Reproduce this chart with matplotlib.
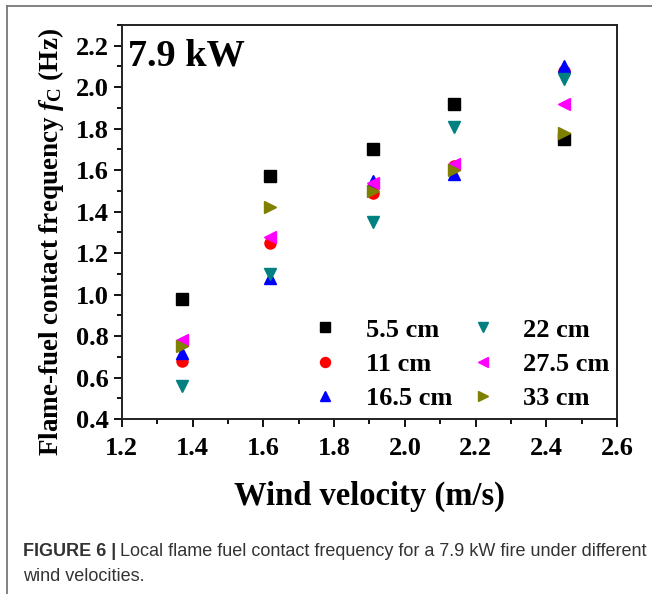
import matplotlib.pyplot as plt
from matplotlib.lines import Line2D
from matplotlib.ticker import MultipleLocator

# wind velocity (m/s)
velocity = [1.37, 1.62, 1.91, 2.14, 2.45]

# flame-fuel contact frequency (Hz) for each height
heights = ["5.5 cm", "11 cm", "16.5 cm", "22 cm", "27.5 cm", "33 cm"]
f_55 = [0.98, 1.57, 1.70, 1.92, 1.75]
f_11 = [0.68, 1.25, 1.49, 1.62, 2.08]
f_165 = [0.72, 1.08, 1.55, 1.58, 2.10]
f_22 = [0.56, 1.10, 1.35, 1.81, 2.04]
f_275 = [0.78, 1.28, 1.54, 1.63, 1.92]
f_33 = [0.75, 1.42, 1.50, 1.60, 1.78]

series = [f_55, f_11, f_165, f_22, f_275, f_33]
markers = ["s", "o", "^", "v", "<", ">"]
colors = ["black", "red", "blue", "#008080", "magenta", "#808000"]

plt.rcParams["font.family"] = ["Liberation Serif", "DejaVu Serif"]
plt.rcParams["font.weight"] = "bold"
plt.rcParams["mathtext.fontset"] = "custom"
plt.rcParams["mathtext.rm"] = "Liberation Serif:bold"
plt.rcParams["mathtext.it"] = "Liberation Serif:italic:bold"
plt.rcParams["mathtext.bf"] = "Liberation Serif:bold"

fig = plt.figure(figsize=(6.52, 5.94), dpi=100)
ax = fig.add_axes([0.1867, 0.2946, 0.760, 0.6633])

for vals, m, c, lab in zip(series, markers, colors, heights):
    ax.plot(velocity, vals, linestyle="none", marker=m, color=c,
            markersize=8, label=lab)

ax.set_xlim(1.2, 2.6)
ax.set_ylim(0.4, 2.3)
ax.xaxis.set_major_locator(MultipleLocator(0.2))
ax.xaxis.set_minor_locator(MultipleLocator(0.1))
ax.yaxis.set_major_locator(MultipleLocator(0.2))
ax.yaxis.set_minor_locator(MultipleLocator(0.1))
ax.xaxis.set_major_formatter(lambda v, p: f"{v:.1f}")
ax.yaxis.set_major_formatter(lambda v, p: f"{v:.1f}")
ax.tick_params(which="both", direction="out", width=1.3, labelsize=19, top=False, right=False)
ax.tick_params(which="major", length=6)
ax.tick_params(which="minor", length=3.5)
ax.tick_params(axis="x", pad=7)
ax.tick_params(axis="y", pad=3)
for lbl in ax.get_xticklabels() + ax.get_yticklabels():
    lbl.set_fontweight("bold")
for sp in ax.spines.values():
    sp.set_linewidth(1.4)
    sp.set_color("#222222")

ax.set_xlabel("Wind velocity (m/s)", fontsize=23.5, fontweight="bold", labelpad=15)
ax.set_ylabel(r"Flame-fuel contact frequency $f_{\mathrm{C}}$ (Hz)",
              fontsize=19.5, fontweight="bold")
ax.yaxis.set_label_coords(-0.113, 0.45)

ax.text(0.012, 0.965, "7.9 kW", transform=ax.transAxes, fontsize=27.5,
        fontweight="bold", va="top", ha="left")

ax.legend(ncol=2, loc="lower right", bbox_to_anchor=(1.033, -0.038), frameon=False,
          fontsize=19, handletextpad=1.05, columnspacing=0.64, labelspacing=0.41,
          markerscale=0.9, handlelength=1.0)

# caption under the chart
cap_font = ["Liberation Sans", "DejaVu Sans"]
head = fig.text(0.035, 0.064, "FIGURE 6 |", fontsize=13, color="#333333",
                family=cap_font, fontweight="bold")
fig.canvas.draw()
bb = head.get_window_extent().transformed(fig.transFigure.inverted())
fig.text(bb.x1 + 0.006, 0.064,
         "Local flame fuel contact frequency for a 7.9 kW fire under different",
         fontsize=13, color="#333333", family=cap_font, fontweight="normal")
fig.text(0.035, 0.022, "wind velocities.", fontsize=13, color="#333333",
         family=cap_font, fontweight="normal")

# grey frame round the figure panel
fig.add_artist(Line2D([0.011, 1.0], [0.99, 0.99], color="#777777", linewidth=1.3))
fig.add_artist(Line2D([0.011, 0.011], [0.0, 0.99], color="#777777", linewidth=1.3))

fig.savefig("out.png", dpi=100)
